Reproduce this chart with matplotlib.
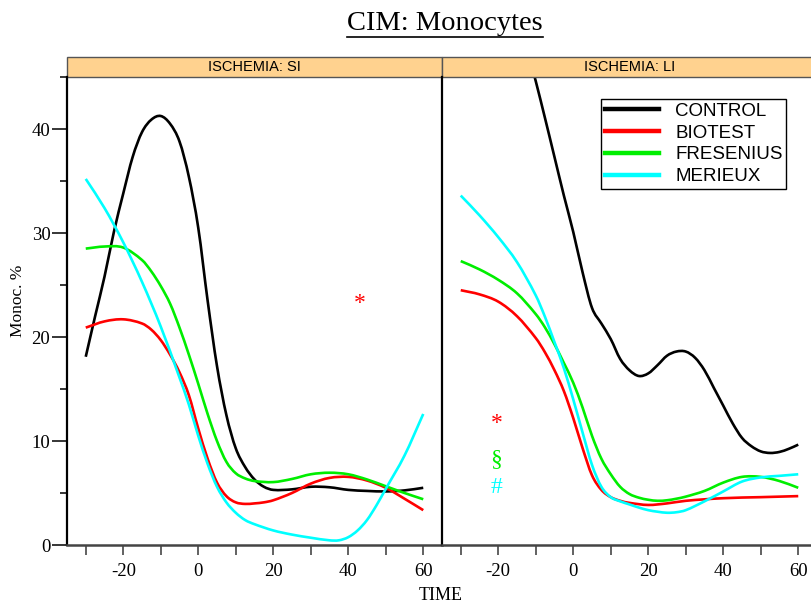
import matplotlib
matplotlib.use("Agg")
import matplotlib.pyplot as plt
import numpy as np
from matplotlib.patches import Rectangle, PathPatch
from matplotlib.path import Path
from matplotlib.lines import Line2D
from matplotlib.ticker import MultipleLocator

# ---- data -------------------------------------------------------------
groups = ["CONTROL", "BIOTEST", "FRESENIUS", "MERIEUX"]
colors = ["#000000", "#FF0000", "#00EE00", "#00FFFF"]
panels = ["ISCHEMIA: SI", "ISCHEMIA: LI"]

# ISCHEMIA: SI
si_control_t = [-30, -27.5, -25, -22.5, -20, -17.5, -15, -12.5, -10, -7.5, -5, -2.5, 0, 2.5, 5,
                7.5, 10, 12.5, 15, 17.5, 20, 25, 30, 35, 40, 45, 50, 55, 60]
si_control_y = [18.1, 22.0, 25.8, 30.1, 33.8, 37.3, 39.7, 40.9, 41.25, 40.5, 38.8, 35.4, 30.5, 23.5, 17.2,
                12.5, 9.3, 7.5, 6.3, 5.6, 5.3, 5.35, 5.6, 5.55, 5.3, 5.2, 5.15, 5.25, 5.5]

si_biotest_t = [-30, -25, -20, -15, -12.5, -10, -7.5, -5, -2.5, 0, 2.5, 5, 7.5, 10, 12.5, 15,
                17.5, 20, 25, 30, 35, 40, 45, 50, 55, 60]
si_biotest_y = [20.9, 21.5, 21.7, 21.3, 20.7, 19.7, 18.3, 16.6, 14.4, 11.2, 8.3, 6.0, 4.7, 4.1, 3.95, 4.0,
                4.1, 4.3, 5.0, 5.9, 6.45, 6.55, 6.2, 5.5, 4.45, 3.35]

si_fresenius_t = [-30, -25, -20, -15, -12.5, -10, -7.5, -5, -2.5, 0, 2.5, 5, 7.5, 10, 12.5, 15,
                  20, 25, 30, 35, 40, 45, 50, 55, 60]
si_fresenius_y = [28.5, 28.7, 28.6, 27.4, 26.3, 24.9, 23.2, 20.9, 18.3, 15.5, 12.6, 10.0, 8.0, 6.9, 6.4, 6.15,
                  6.05, 6.35, 6.8, 6.95, 6.8, 6.3, 5.65, 5.0, 4.4]

si_merieux_t = [-30, -25, -20, -15, -10, -5, -2.5, 0, 2.5, 5, 7.5, 10, 12.5, 15, 20, 25, 30, 35,
                37.5, 40, 42.5, 45, 47.5, 50, 55, 60]
si_merieux_y = [35.2, 32.4, 29.1, 25.3, 21.0, 16.1, 13.5, 10.5, 7.8, 5.6, 4.1, 3.1, 2.4, 2.0, 1.4, 1.0, 0.7, 0.45,
                0.45, 0.75, 1.4, 2.4, 3.8, 5.4, 8.6, 12.6]

# ISCHEMIA: LI
li_control_t = [-12.5, -10, -7.5, -5, -2.5, 0, 2.5, 5, 7.5, 10, 12.5, 15, 17.5, 20, 22.5, 25, 27.5,
                30, 32.5, 35, 37.5, 40, 42.5, 45, 47.5, 50, 52.5, 55, 57.5, 60]
li_control_y = [48.0, 44.6, 41.0, 37.3, 33.6, 30.1, 26.2, 22.8, 21.3, 19.8, 17.9, 16.8, 16.25, 16.5, 17.3, 18.2, 18.6,
                18.6, 18.0, 16.8, 15.1, 13.4, 11.7, 10.3, 9.5, 9.0, 8.85, 8.95, 9.25, 9.65]

li_biotest_t = [-30, -25, -20, -15, -10, -7.5, -5, -2.5, 0, 2.5, 5, 7.5, 10, 12.5, 15, 20, 25, 30, 40, 50, 60]
li_biotest_y = [24.5, 24.1, 23.4, 22.0, 19.9, 18.5, 16.8, 14.8, 12.2, 9.3, 6.7, 5.3, 4.6, 4.25, 4.05, 3.85, 4.0,
                4.25, 4.5, 4.6, 4.7]

li_fresenius_t = [-30, -25, -20, -15, -10, -7.5, -5, -2.5, 0, 2.5, 5, 7.5, 10, 12.5, 15, 17.5, 20, 22.5, 25,
                  27.5, 30, 35, 40, 45, 50, 55, 60]
li_fresenius_y = [27.3, 26.5, 25.5, 24.2, 22.2, 20.9, 19.3, 17.5, 15.6, 13.2, 10.5, 8.3, 6.8, 5.6, 4.9, 4.55, 4.35,
                  4.25, 4.3, 4.45, 4.65, 5.2, 6.0, 6.55, 6.55, 6.15, 5.5]

li_merieux_t = [-30, -25, -20, -15, -10, -7.5, -5, -2.5, 0, 2.5, 5, 7.5, 10, 12.5, 15, 17.5, 20, 22.5, 25,
                27.5, 30, 35, 40, 45, 50, 55, 60]
li_merieux_y = [33.6, 31.7, 29.6, 27.2, 24.0, 21.9, 19.5, 17.0, 14.0, 10.8, 7.7, 5.6, 4.6, 4.2, 3.9, 3.6, 3.35,
                3.2, 3.1, 3.15, 3.35, 4.2, 5.15, 6.1, 6.5, 6.65, 6.8]

series = [
    [(si_control_t, si_control_y), (si_biotest_t, si_biotest_y),
     (si_fresenius_t, si_fresenius_y), (si_merieux_t, si_merieux_y)],
    [(li_control_t, li_control_y), (li_biotest_t, li_biotest_y),
     (li_fresenius_t, li_fresenius_y), (li_merieux_t, li_merieux_y)],
]

# significance markers: (panel, time, value, symbol, colour index)
marks = [
    (0, 43, 23.2, "*", 1),
    (1, -20.5, 11.7, "*", 1),
    (1, -20.5, 8.2, "\u00a7", 2),
    (1, -20.5, 5.5, "#", 3),
]


def smooth_path(t, y):
    """Cubic Hermite (Bezier) path running through every data point."""
    t = np.asarray(t, float)
    y = np.asarray(y, float)
    n = len(t)
    m = np.empty(n)
    m[0] = (y[1] - y[0]) / (t[1] - t[0])
    m[-1] = (y[-1] - y[-2]) / (t[-1] - t[-2])
    m[1:-1] = (y[2:] - y[:-2]) / (t[2:] - t[:-2])
    verts = [(t[0], y[0])]
    codes = [Path.MOVETO]
    for i in range(n - 1):
        h = t[i + 1] - t[i]
        verts += [(t[i] + h / 3, y[i] + m[i] * h / 3),
                  (t[i + 1] - h / 3, y[i + 1] - m[i + 1] * h / 3),
                  (t[i + 1], y[i + 1])]
        codes += [Path.CURVE4] * 3
    return Path(verts, codes)


# ---- figure -----------------------------------------------------------
SERIF = ["Liberation Serif", "DejaVu Serif"]
SANS = ["Liberation Sans", "DejaVu Sans"]
NARROW = ["Liberation Sans Narrow", "Liberation Sans", "DejaVu Sans"]

W, H = 812, 605
fig = plt.figure(figsize=(W / 100, H / 100), dpi=100)

ax_left_px, ax_w_px = 67, 375
ax_top_px, ax_bot_px = 77, 545
ax_h_px = ax_bot_px - ax_top_px
strip_h = 20

axes = []
for i in range(2):
    x0 = ax_left_px + i * ax_w_px
    ax = fig.add_axes([x0 / W, (H - ax_bot_px) / H, ax_w_px / W, ax_h_px / H])
    axes.append(ax)

for i, ax in enumerate(axes):
    for (t, y), c in zip(series[i], colors):
        ax.add_patch(PathPatch(smooth_path(t, y), facecolor="none", edgecolor=c,
                               lw=1.9, capstyle="butt"))
    ax.set_xlim(-35, 65)
    ax.set_ylim(0, 45)

    ax.set_xticks([-30, -20, -10, 0, 10, 20, 30, 40, 50, 60])
    ax.set_xticklabels(["", "-20", "", "0", "", "20", "", "40", "", "60"],
                       family=SERIF, fontsize=13.5)
    ax.tick_params(axis="x", direction="out", length=7, width=1.3, color="#555555", pad=6)

    ax.spines["top"].set_visible(False)
    ax.spines["right"].set_visible(False)
    ax.spines["bottom"].set_color("#444444")
    ax.spines["bottom"].set_linewidth(1.8)
    ax.spines["left"].set_color("black")
    ax.spines["left"].set_linewidth(1.6)

    # panel strip
    ax.add_patch(Rectangle((0, 1), 1, strip_h / ax_h_px, transform=ax.transAxes,
                           clip_on=False, facecolor="#FFD28F", edgecolor="#555555", lw=1.0))
    ax.text(0.5, 1 + strip_h / 2 / ax_h_px, panels[i], transform=ax.transAxes,
            ha="center", va="center", family=NARROW, fontsize=10.5)

    for p, t, v, s, ci in marks:
        if p == i:
            ax.text(t, v, s, color=colors[ci], ha="center", va="center",
                    family=SERIF, fontsize=17)

# y axis on the left panel only
axl = axes[0]
axl.set_yticks([0, 10, 20, 30, 40])
axl.set_yticklabels(["0", "10", "20", "30", "40"], family=SERIF, fontsize=13.5)
axl.yaxis.set_minor_locator(MultipleLocator(5))
axl.tick_params(axis="y", which="major", direction="out", length=11, width=1.1, pad=1)
axl.tick_params(axis="y", which="minor", direction="out", length=5, width=1.1)

axr = axes[1]
axr.tick_params(axis="y", left=False, labelleft=False)
axr.spines["left"].set_linewidth(1.6)

# legend
handles = [Line2D([], [], color=c, lw=3.2) for c in colors]
leg = axr.legend(handles, groups, loc="upper left", bbox_to_anchor=(0.424, 0.953),
                 prop={"family": SANS, "size": 13.5}, frameon=True, fancybox=False,
                 edgecolor="black", framealpha=1, handlelength=2.9, handletextpad=0.85,
                 labelspacing=0.25, borderpad=0.2, borderaxespad=0)
leg.get_frame().set_linewidth(1.0)

# axis titles
fig.text(18 / W, 1 - 301 / H, "Monoc. %", rotation=90, ha="center", va="center",
         family=SERIF, fontsize=12.5)
fig.text(441 / W, 1 - 596 / H, "TIME", ha="center", va="center", family=SERIF, fontsize=13)

# underlined title
title = fig.text(445 / W, 1 - 23 / H, "CIM: Monocytes", ha="center", va="center",
                 family=SERIF, fontsize=20.5)
fig.canvas.draw()
bb = title.get_window_extent(renderer=fig.canvas.get_renderer())
uy = bb.y0 - 1
fig.add_artist(Line2D([bb.x0 / W, bb.x1 / W], [uy / H, uy / H], color="black", lw=1.2,
                      transform=fig.transFigure))

fig.savefig("out.png", dpi=100)
